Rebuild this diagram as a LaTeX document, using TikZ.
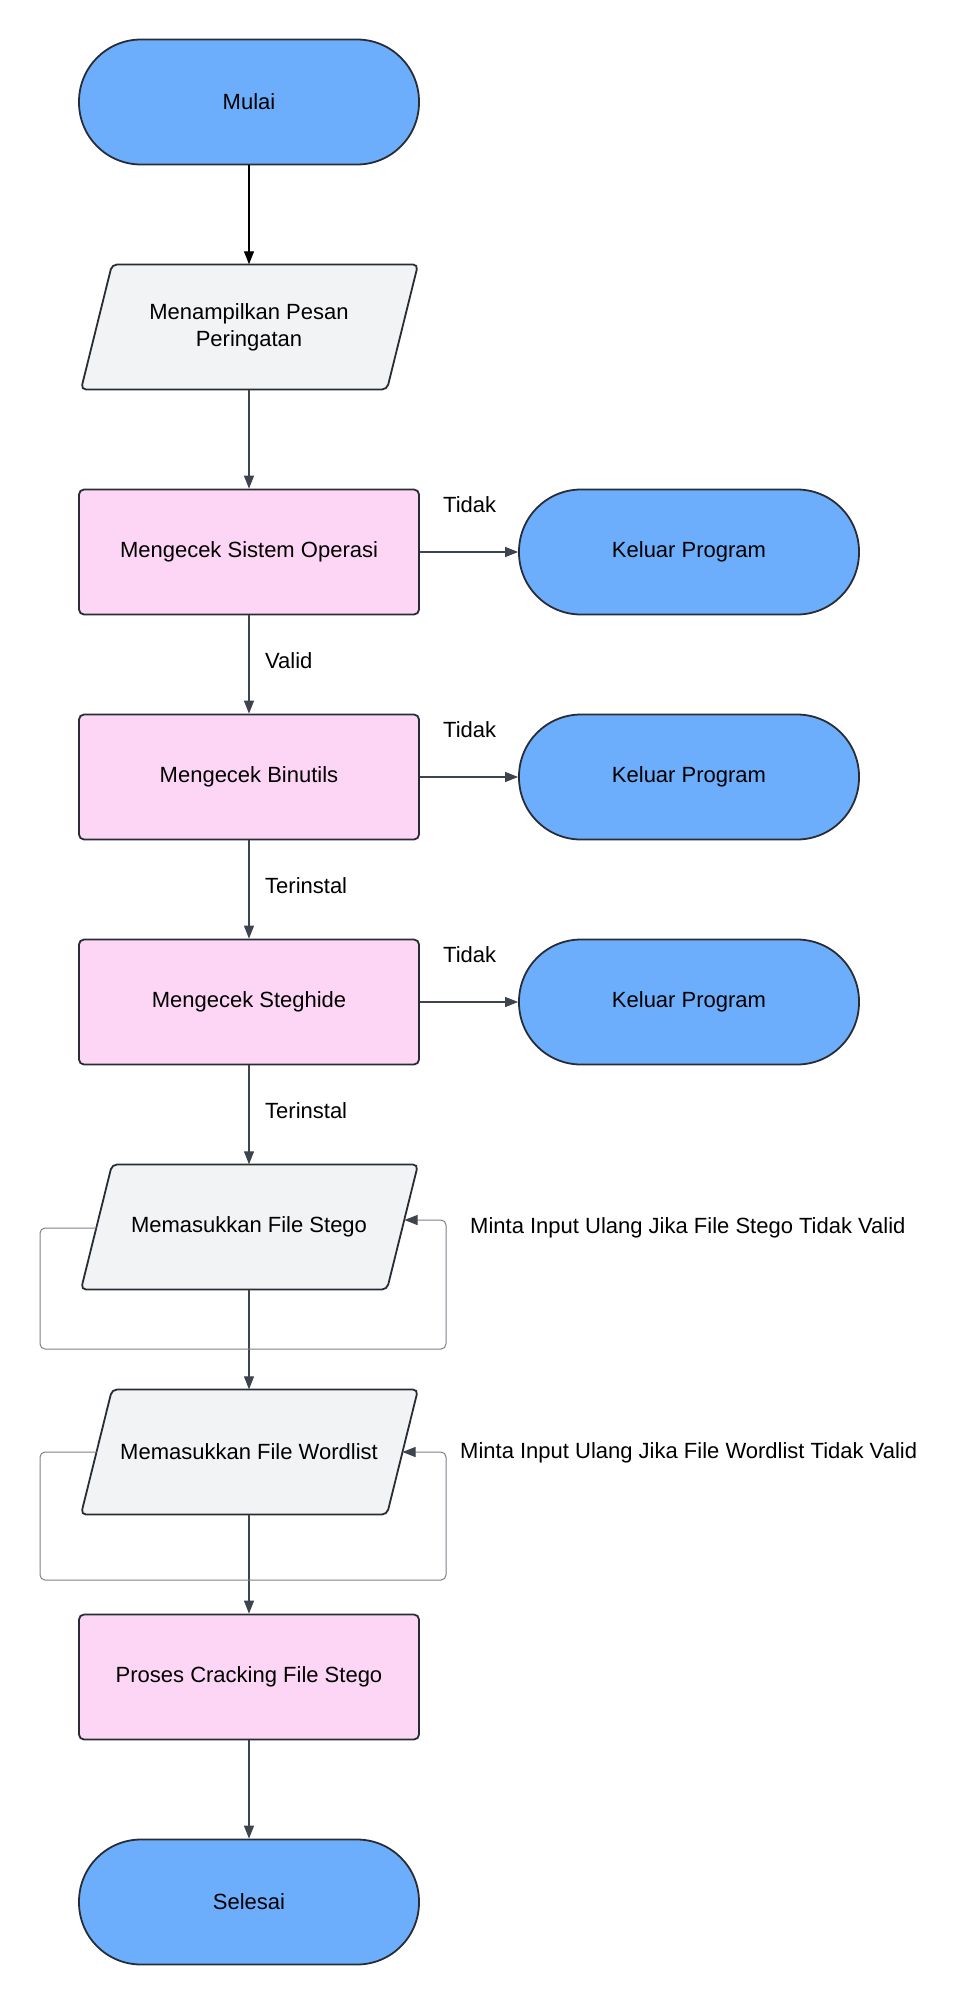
\documentclass[tikz,border=0pt]{standalone}
\usepackage{fontspec}
\setmainfont{Liberation Sans}
\usetikzlibrary{arrows.meta,calc}
\definecolor{termblue}{RGB}{108,174,252}
\definecolor{procpink}{RGB}{253,214,245}
\definecolor{iogray}{RGB}{242,243,245}
\definecolor{edgedark}{RGB}{62,68,78}
\definecolor{borderdark}{RGB}{40,44,52}
\definecolor{loopgray}{RGB}{125,129,136}
\newcommand\iopath[2]{\filldraw[iofill] ({#1-137},{#2-62.5}) -- ({#1+169},{#2-62.5}) -- ({#1+138},{#2+62.5}) -- ({#1-168},{#2+62.5}) -- cycle;}
\begin{document}
\begin{tikzpicture}[x=1pt,y=-1pt,
  font=\fontsize{22}{27}\selectfont,
  base/.style={minimum width=340pt, minimum height=125pt, inner sep=0pt, align=center},
  terminal/.style={base, draw=borderdark, line width=1.8pt, fill=termblue, rounded corners=62pt},
  process/.style={base, draw=borderdark, line width=1.8pt, fill=procpink, rounded corners=5pt},
  iotext/.style={base},
  iofill/.style={draw=borderdark, line width=1.8pt, fill=iogray, rounded corners=5pt},
  flow/.style={draw=edgedark, line width=1.2pt, -{Triangle[length=13pt,width=10pt]}},
  loopline/.style={draw=loopgray, line width=1pt, rounded corners=5pt, -{Triangle[length=13pt,width=10pt,color=edgedark]}},
  lbl/.style={anchor=west, inner sep=0pt}]
\fill[white] (0,0) rectangle (965,2005);
\useasboundingbox (0,0) rectangle (965,2005);

\node[terminal] (mulai) at (249,102) {Mulai};
\iopath{249}{327}
\node[iotext] (pesan) at (249,327) {Menampilkan Pesan\\Peringatan};
\node[process] (os) at (249,552) {Mengecek Sistem Operasi};
\node[terminal] (k1) at (689,552) {Keluar Program};
\node[process] (bin) at (249,777) {Mengecek Binutils};
\node[terminal] (k2) at (689,777) {Keluar Program};
\node[process] (steg) at (249,1002) {Mengecek Steghide};
\node[terminal] (k3) at (689,1002) {Keluar Program};
\iopath{249}{1227}
\node[iotext] (stego) at (249,1227) {Memasukkan File Stego};
\iopath{249}{1452}
\node[iotext] (word) at (249,1452) {Memasukkan File Wordlist};
\node[process] (crack) at (249,1677) {Proses Cracking File Stego};
\node[terminal] (selesai) at (249,1902) {Selesai};

\draw[flow, draw=black] (mulai) -- (pesan);
\draw[flow] (pesan) -- (os);
\draw[flow] (os) -- (bin);
\draw[flow] (bin) -- (steg);
\draw[flow] (steg) -- (stego);
\draw[flow] (stego) -- (word);
\draw[flow] (word) -- (crack);
\draw[flow] (crack) -- (selesai);
\draw[flow] (os) -- (k1);
\draw[flow] (bin) -- (k2);
\draw[flow] (steg) -- (k3);

\node[lbl] (t1) at (443,505) {Tidak};
\node[lbl] (t2) at (443,730) {Tidak};
\node[lbl] (t3) at (443,955) {Tidak};
\node[lbl] (v1) at (265,661) {Valid};
\node[lbl] (ti1) at (265,886) {Terinstal};
\node[lbl] (ti2) at (265,1111) {Terinstal};
\node[lbl] (m1) at (470,1228) {Minta Input Ulang Jika File Stego Tidak Valid};
\node[lbl] (m2) at (460,1453) {Minta Input Ulang Jika File Wordlist Tidak Valid};

\coordinate (stegoL) at (96.3,1228);
\coordinate (stegoR) at (404.5,1220);
\coordinate (wordL) at (96.5,1452);
\coordinate (wordR) at (402.5,1452);
\draw[loopline] (stegoL) -- (40,1228) -- (40,1349) -- (446,1349) -- (446,1220) -- (stegoR);
\draw[loopline] (wordL) -- (40,1452) -- (40,1580) -- (446,1580) -- (446,1452) -- (wordR);
\end{tikzpicture}
\end{document}
